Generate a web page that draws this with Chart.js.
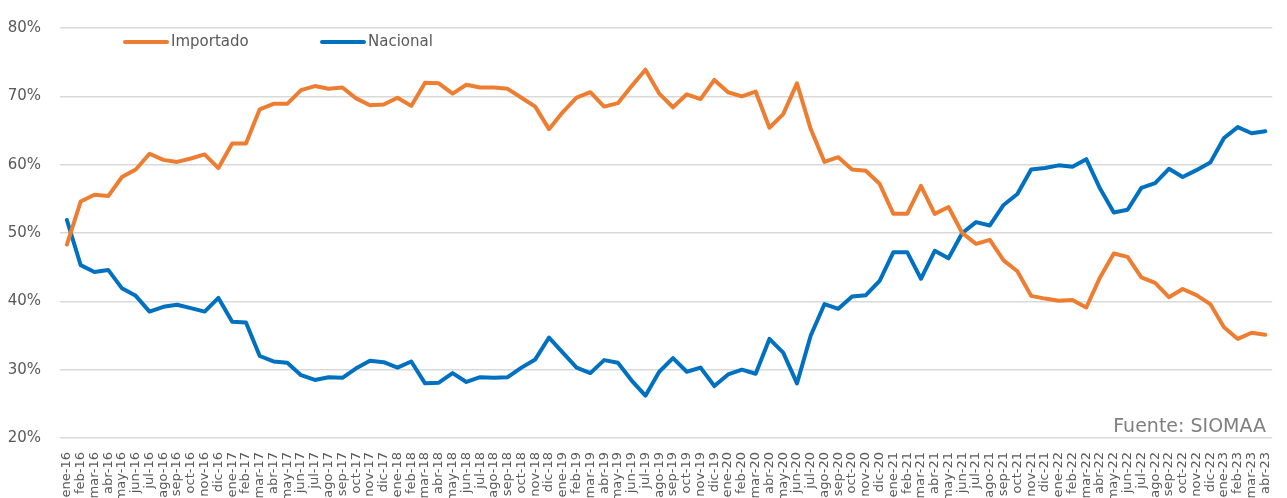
<!DOCTYPE html>
<html>
<head>
<meta charset="utf-8">
<script src="https://cdn.jsdelivr.net/npm/chart.js@4"></script>
<style>
  html, body { margin: 0; padding: 0; background: #fff; }
  #wrap { width: 1287px; height: 498px; position: relative; }
</style>
</head>
<body>
<div id="wrap"><canvas id="chart"></canvas></div>
<script>
// months ene-16 .. abr-23
const meses = [
  'ene-16','feb-16','mar-16','abr-16','may-16','jun-16','jul-16','ago-16','sep-16','oct-16','nov-16','dic-16',
  'ene-17','feb-17','mar-17','abr-17','may-17','jun-17','jul-17','ago-17','sep-17','oct-17','nov-17','dic-17',
  'ene-18','feb-18','mar-18','abr-18','may-18','jun-18','jul-18','ago-18','sep-18','oct-18','nov-18','dic-18',
  'ene-19','feb-19','mar-19','abr-19','may-19','jun-19','jul-19','ago-19','sep-19','oct-19','nov-19','dic-19',
  'ene-20','feb-20','mar-20','abr-20','may-20','jun-20','jul-20','ago-20','sep-20','oct-20','nov-20','dic-20',
  'ene-21','feb-21','mar-21','abr-21','may-21','jun-21','jul-21','ago-21','sep-21','oct-21','nov-21','dic-21',
  'ene-22','feb-22','mar-22','abr-22','may-22','jun-22','jul-22','ago-22','sep-22','oct-22','nov-22','dic-22',
  'ene-23','feb-23','mar-23','abr-23'
];

// shares in %
const importado = [
  48.3, 54.6, 55.6, 55.4, 58.2, 59.3, 61.6, 60.7, 60.4, 60.9, 61.5, 59.5,
  63.1, 63.1, 68.1, 68.9, 68.9, 70.9, 71.5, 71.1, 71.3, 69.7, 68.7, 68.8,
  69.8, 68.6, 72.0, 71.9, 70.4, 71.7, 71.3, 71.3, 71.1, 69.8, 68.5, 65.2,
  67.7, 69.8, 70.6, 68.5, 69.0, 71.5, 73.9, 70.4, 68.4, 70.3, 69.6, 72.4,
  70.6, 70.0, 70.7, 65.4, 67.4, 71.9, 65.2, 60.4, 61.1, 59.3, 59.1, 57.2,
  52.8, 52.8, 56.9, 52.8, 53.8, 50.0, 48.4, 49.0, 46.0, 44.4, 40.8, 40.4,
  40.1, 40.2, 39.1, 43.5, 47.0, 46.5, 43.5, 42.7, 40.6, 41.8, 40.9, 39.6,
  36.2, 34.5, 35.4, 35.1
];

const nacional = [
  51.9, 45.3, 44.3, 44.6, 41.9, 40.8, 38.5, 39.2, 39.5, 39.0, 38.5, 40.5,
  37.0, 36.9, 32.0, 31.2, 31.0, 29.2, 28.5, 28.9, 28.8, 30.2, 31.3, 31.1,
  30.3, 31.2, 28.0, 28.1, 29.5, 28.2, 28.9, 28.8, 28.9, 30.3, 31.5, 34.7,
  32.5, 30.3, 29.5, 31.4, 31.0, 28.4, 26.2, 29.7, 31.7, 29.7, 30.3, 27.6,
  29.3, 30.0, 29.4, 34.5, 32.5, 28.0, 35.0, 39.6, 38.9, 40.7, 40.9, 43.0,
  47.2, 47.2, 43.3, 47.4, 46.3, 50.0, 51.6, 51.1, 54.1, 55.7, 59.3, 59.5,
  59.9, 59.7, 60.8, 56.5, 53.0, 53.4, 56.6, 57.3, 59.4, 58.2, 59.2, 60.3,
  63.9, 65.5, 64.6, 64.9
];

const yTicks = [20, 30, 40, 50, 60, 70, 80];
const fuente = 'Fuente: SIOMAA';

const NARANJA = '#ED7D31';
const AZUL = '#0070C0';
const GRIS = '#595959';
const FUENTE = '"DejaVu Sans"';

// legend drawn inside the plot, top-left, plus source note
const legendaInterna = {
  id: 'legendaInterna',
  afterDraw(chart) {
    const ctx = chart.ctx;
    const xs = [125, 322];
    ctx.save();
    chart.data.datasets.forEach((ds, i) => {
      const x = xs[i], y = 42;
      ctx.strokeStyle = ds.borderColor;
      ctx.lineWidth = 4;
      ctx.lineCap = 'round';
      ctx.beginPath();
      ctx.moveTo(x, y);
      ctx.lineTo(x + 42, y);
      ctx.stroke();
      ctx.fillStyle = GRIS;
      ctx.font = '15px ' + FUENTE;
      ctx.textBaseline = 'middle';
      ctx.textAlign = 'left';
      ctx.fillText(ds.label, x + 46, y);
    });
    ctx.fillStyle = '#7F7F7F';
    ctx.font = '19px ' + FUENTE;
    ctx.textAlign = 'right';
    ctx.textBaseline = 'alphabetic';
    ctx.fillText(fuente, 1266, 432);
    ctx.restore();
  }
};

new Chart(document.getElementById('chart'), {
  type: 'line',
  data: {
    labels: meses,
    datasets: [
      { label: 'Importado', data: importado, borderColor: NARANJA, backgroundColor: NARANJA },
      { label: 'Nacional', data: nacional, borderColor: AZUL, backgroundColor: AZUL }
    ]
  },
  options: {
    responsive: true,
    maintainAspectRatio: false,
    animation: false,
    layout: { padding: { top: 7, right: 10, left: 0, bottom: 0 } },
    elements: {
      line: { borderWidth: 4, tension: 0, borderJoinStyle: 'round', borderCapStyle: 'round' },
      point: { radius: 0, hoverRadius: 0 }
    },
    plugins: {
      legend: { display: false },
      tooltip: { enabled: false }
    },
    scales: {
      x: {
        offset: true,
        grid: { display: false },
        border: { display: false },
        ticks: {
          autoSkip: false,
          maxRotation: 90,
          minRotation: 90,
          padding: 6,
          color: GRIS,
          font: { family: FUENTE, size: 13 }
        },
        afterFit(scale) { scale.height = 60; }
      },
      y: {
        min: 20,
        max: 80,
        afterBuildTicks(scale) { scale.ticks = yTicks.map(v => ({ value: v })); },
        grid: { color: '#D9D9D9', lineWidth: 1.5, drawTicks: false },
        border: { display: false },
        ticks: {
          padding: 19,
          color: GRIS,
          font: { family: FUENTE, size: 15 },
          callback: v => v + '%'
        },
        afterFit(scale) { scale.width = 60; }
      }
    }
  },
  plugins: [legendaInterna]
});
</script>
</body>
</html>
